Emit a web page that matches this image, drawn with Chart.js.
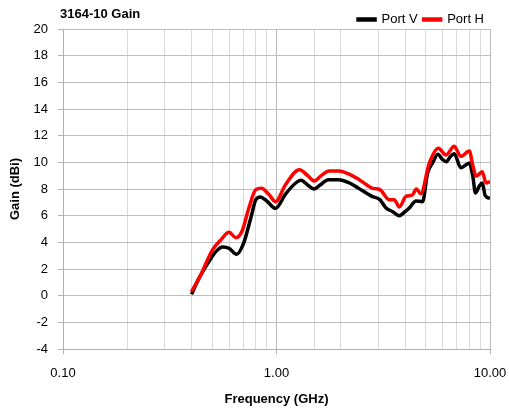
<!DOCTYPE html>
<html>
<head>
<meta charset="utf-8">
<script src="https://cdn.jsdelivr.net/npm/chart.js@4.4.1/dist/chart.umd.min.js"></script>
<style>
  html,body{margin:0;padding:0;background:#fff;}
  #wrap{width:509px;height:408px;position:relative;}
</style>
</head>
<body>
<div id="wrap"><canvas id="c"></canvas></div>
<script>
// data
const freqV = [0.40,0.43,0.48,0.52,0.56,0.60,0.65,0.70,0.76,0.80,0.84,0.90,0.99,1.10,1.23,1.30,1.40,1.50,1.60,1.75,1.95,2.20,2.40,2.80,3.05,3.25,3.50,3.76,4.00,4.20,4.50,4.83,5.10,5.40,5.70,6.00,6.25,6.50,6.80,7.30,7.70,8.00,8.30,8.55,8.90,9.20,9.50,10.0];
const gainV = [0.1,1.2,2.5,3.3,3.65,3.55,3.1,3.9,5.9,7.2,7.4,7.1,6.55,7.6,8.45,8.65,8.3,8.0,8.3,8.7,8.7,8.45,8.1,7.45,7.2,6.6,6.3,6.0,6.3,6.6,7.1,7.05,9.2,10.0,10.6,10.2,10.05,10.4,10.65,9.6,9.8,9.95,9.0,7.7,8.2,8.45,7.5,7.3];
const freqH = [0.40,0.44,0.50,0.55,0.60,0.645,0.69,0.74,0.80,0.85,0.92,0.99,1.10,1.28,1.40,1.50,1.62,1.76,1.96,2.20,2.44,2.82,3.05,3.37,3.56,3.76,4.04,4.33,4.52,4.74,5.20,5.73,6.22,6.80,7.30,8.00,8.30,8.60,9.20,9.58,10.0];
const gainH = [0.3,1.5,3.4,4.2,4.75,4.35,4.85,6.5,7.95,8.05,7.6,7.05,8.3,9.45,9.0,8.6,9.0,9.35,9.35,9.1,8.7,8.05,7.95,7.2,7.2,6.65,7.45,7.55,8.0,7.65,9.95,11.05,10.55,11.2,10.45,10.85,9.8,8.95,9.3,8.45,8.55];
const seriesNames = ['Port V','Port H'];
const xMajor = [0.1, 1, 10];

const FONT = "'Liberation Sans', Arial, sans-serif";
Chart.defaults.animation = false;
Chart.defaults.font.family = FONT;
Chart.defaults.color = '#000';

function pts(xs, ys){ return xs.map((x,i)=>({x:x, y:ys[i]})); }
function isMajor(v){ return xMajor.some(m => Math.abs(m - v) < 1e-9); }

// chart title top-left, legend nudged down a bit (like the excel one)
const titlePlugin = {
  id:'topTitle',
  afterLayout(chart){
    const lg = chart.legend;
    if(lg){ lg.top += 7; lg.bottom += 7; }
  },
  afterDraw(chart){
    const ctx = chart.ctx;
    ctx.save();
    ctx.font = "bold 13px " + FONT;
    ctx.fillStyle = '#000';
    ctx.textBaseline = 'middle';
    ctx.fillText('3164-10 Gain', 60, 14);
    ctx.restore();
  }
};

new Chart(document.getElementById('c'), {
  type:'line',
  data:{
    datasets:[
      {label:seriesNames[0], data:pts(freqV,gainV), borderColor:'#000000', backgroundColor:'#000000', borderWidth:3.5, pointRadius:0, cubicInterpolationMode:'monotone', order:1},
      {label:seriesNames[1], data:pts(freqH,gainH), borderColor:'#ff0000', backgroundColor:'#ff0000', borderWidth:3.5, pointRadius:0, cubicInterpolationMode:'monotone', order:0}
    ]
  },
  options:{
    responsive:true,
    maintainAspectRatio:false,
    layout:{padding:{left:0,right:19,top:0,bottom:0}},
    plugins:{
      legend:{
        position:'top', align:'end', fullSize:false,
        labels:{
          font:{size:13}, color:'#000', boxWidth:17, boxHeight:1, padding:6,
          sort:(a,b)=>a.datasetIndex-b.datasetIndex
        }
      },
      tooltip:{enabled:false}
    },
    scales:{
      x:{
        type:'logarithmic', min:0.1, max:10,
        afterFit:s=>{ s.height = 59; s.paddingLeft = 0; s.paddingRight = 0; },
        border:{color:'#b0b0b0'},
        grid:{
          color:ctx=> (ctx.tick && isMajor(ctx.tick.value)) ? '#b8b8b8' : '#d9d9d9',
          tickColor:ctx=> (ctx.tick && isMajor(ctx.tick.value)) ? '#b0b0b0' : 'rgba(0,0,0,0)',
          tickLength:5
        },
        ticks:{
          autoSkip:false, maxRotation:0, padding:12, font:{size:13}, color:'#000',
          callback:v=> isMajor(v) ? v.toFixed(2) : ''
        },
        title:{display:true, text:'Frequency (GHz)', font:{size:13, weight:'bold'}, color:'#000', padding:{top:4,bottom:1}}
      },
      y:{
        min:-4, max:20,
        afterFit:s=>{ s.width = 63; },
        border:{color:'#b0b0b0'},
        grid:{color:'#bfbfbf', tickColor:'#b0b0b0', tickLength:5},
        ticks:{stepSize:2, padding:10, font:{size:13}, color:'#000'},
        title:{display:true, text:'Gain (dBi)', font:{size:13, weight:'bold'}, color:'#000', padding:{top:8,bottom:0}}
      }
    }
  },
  plugins:[titlePlugin]
});
</script>
</body>
</html>
